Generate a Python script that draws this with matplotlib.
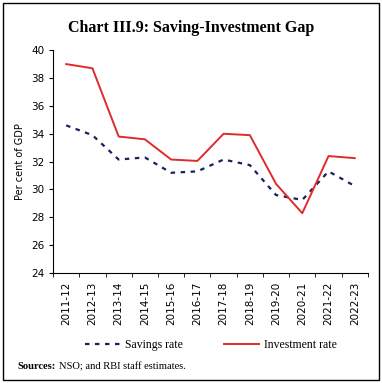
import matplotlib.pyplot as plt
from matplotlib.patches import Rectangle

# data
years = ['2011-12', '2012-13', '2013-14', '2014-15', '2015-16', '2016-17',
         '2017-18', '2018-19', '2019-20', '2020-21', '2021-22', '2022-23']
savings = [34.6, 33.9, 32.15, 32.3, 31.2, 31.3, 32.15, 31.75, 29.6, 29.25, 31.3, 30.25]
investment = [39.0, 38.7, 33.8, 33.6, 32.15, 32.05, 34.0, 33.9, 30.4, 28.3, 32.4, 32.25]

fig = plt.figure(figsize=(3.82, 3.83), dpi=100)
ax = fig.add_axes([0.139, 0.287, 0.824, 0.582])

x = list(range(len(years)))
ax.plot(x, savings, color='#1c1f5e', linestyle=(0, (2, 2.5)), linewidth=1.6, label='Savings rate')
ax.plot(x, investment, color='#e02b2b', linewidth=1.4, label='Investment rate')

ax.set_xlim(-0.5, len(years) - 0.5)
ax.set_ylim(24, 40)
ax.set_yticks(range(24, 41, 2))
ax.set_xticks(x)
ax.set_xticklabels(years, rotation=90, fontsize=7.5, family='DejaVu Sans')
ax.tick_params(axis='x', length=0, pad=6)
ax.set_xticks([i - 0.5 for i in range(len(years) + 1)], minor=True)
ax.tick_params(axis='x', which='minor', length=3, direction='out')
ax.tick_params(axis='y', labelsize=7.5, length=3)
ax.set_ylabel('Per cent of GDP', fontsize=7, family='DejaVu Sans')
ax.spines['top'].set_visible(False)
ax.spines['right'].set_visible(False)

fig.text(0.5, 0.927, 'Chart III.9: Saving-Investment Gap', ha='center', va='center',
         fontsize=11.5, fontweight='bold', family='Liberation Serif')
fig.legend(loc='center', bbox_to_anchor=(0.552, 0.1), ncol=2, frameon=False,
           prop={'family': 'Liberation Serif', 'size': 8.5}, handlelength=3,
           handletextpad=0.4, columnspacing=3.5)

# sources line: bold word then plain text right after it
src = fig.text(0.045, 0.042, 'Sources:', fontsize=7.6, fontweight='bold',
               family='Liberation Serif', va='center')
fig.canvas.draw()
bb = src.get_window_extent().transformed(fig.transFigure.inverted())
fig.text(bb.x1 + 0.008, 0.042, 'NSO; and RBI staff estimates.', fontsize=7.6,
         family='Liberation Serif', va='center')

fig.patches.append(Rectangle((0.008, 0.008), 0.984, 0.984, transform=fig.transFigure,
                             fill=False, edgecolor='black', linewidth=1))

fig.savefig('out.png', dpi=100)
